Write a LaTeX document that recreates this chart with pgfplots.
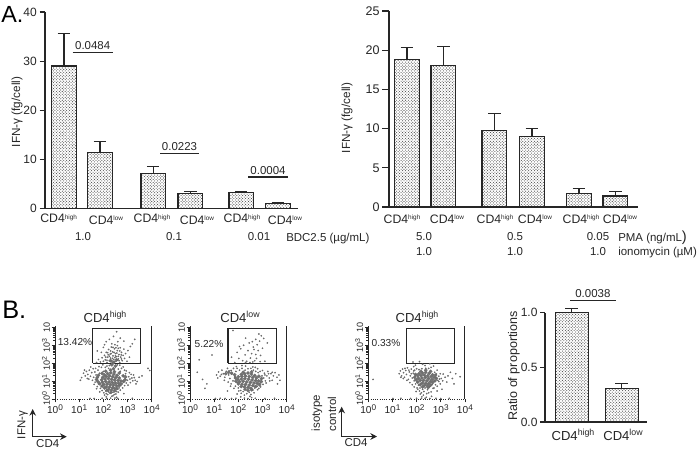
\documentclass[border=0pt]{standalone}
\usepackage{fontspec}
\setmainfont{Liberation Sans}
\usepackage{pgfplots}
\pgfplotsset{compat=1.18}
\usetikzlibrary{patterns,arrows.meta}
\pgfdeclarepatternformonly{stip}{\pgfqpoint{-0.1pt}{-0.1pt}}{\pgfqpoint{2.4pt}{2.4pt}}{\pgfqpoint{2.2pt}{2.2pt}}{%
  \pgfpathcircle{\pgfqpoint{0.5pt}{0.5pt}}{0.42pt}%
  \pgfpathcircle{\pgfqpoint{1.6pt}{1.6pt}}{0.42pt}%
  \pgfusepath{fill}}
\definecolor{ink}{gray}{0.15}
\definecolor{dotc}{gray}{0.42}
\newcommand\fs[1]{\fontsize{#1}{#1}\selectfont}
\newcommand\cdt[1]{{\fs{9.2}CD4\raisebox{2.6pt}{\fs{4.8}#1}}}
\newcommand\cdb[1]{{\fs{9.8}CD4\raisebox{3.4pt}{\fs{6.6}#1}}}
\newcommand\tp[1]{10\raisebox{2.6pt}{\fs{6.2}#1}}
\newcommand\tpy[1]{10\raisebox{2.2pt}{\fs{5.2}#1}}
\pgfplotsset{
  barax/.style={
    scale only axis, clip=false, axis x line=bottom, axis y line=left,
    axis line style={-,ink,line width=0.85pt}, xtick=\empty,
    tick style={ink,line width=0.85pt}, tick align=outside,
    major tick length=4pt,
    /pgf/number format/assume math mode=true,
    yticklabel style={xshift=1.4pt},
    ymin=0,
  },
  stipbar/.style={
    ybar, bar width=18.4pt, bar shift=0pt, draw=ink, line width=0.85pt,
    pattern=stip, pattern color=black!72,
    error bars/y dir=plus, error bars/y explicit,
    error bars/error bar style={ink,line width=0.85pt},
    error bars/error mark options={rotate=90,mark size=4.7pt,ink,line width=0.85pt},
  },
  flow/.style={
    scale only axis, clip=false, width=72.5pt, height=54.75pt,
    xmin=0,xmax=4,ymin=0,ymax=4.1,
    axis x line=bottom, axis y line=left,
    axis line style={-,ink,line width=0.7pt},
    x axis line style={densely dotted},
    xtick={0,1,2,3,4}, ytick={0,1,2,3,4},
    xticklabels={\tp{0},\tp{1},\tp{2},\tp{3},\tp{4}},
    yticklabels={\tpy{0},\tpy{1},\tpy{2},\tpy{3},10},
    minor ytick={.3,.48,.6,.7,.78,.85,.9,.95,1.3,1.48,1.6,1.7,1.78,1.85,1.9,1.95,2.3,2.48,2.6,2.7,2.78,2.85,2.9,2.95,3.3,3.48,3.6,3.7,3.78,3.85,3.9,3.95},
    tick style={ink,line width=0.6pt}, tick align=outside,
    major tick length=2.6pt, minor tick length=1.4pt,
    ticklabel style={font=\fs{7.6},text=ink,inner sep=1pt},
    yticklabel style={rotate=90,anchor=south,font=\fs{6.8}},
    xticklabel style={yshift=-0.5pt},
  },
  fine/.style={only marks,mark=*,mark size=0.42pt,color=dotc,mark options={draw=none,fill=dotc}},
  core/.style={only marks,mark=*,mark size=1.15pt,color=black!56,mark options={draw=none,fill=black!56}},
  gate/.style={ink,line width=0.85pt,mark=none},
}
\begin{document}
\begin{tikzpicture}
\path[use as bounding box] (0,0) rectangle (525pt,-337.5pt);

% ---------- A left
\begin{axis}[barax,at={(33.75pt,-156.375pt)},anchor=south west,width=189.75pt,height=147.375pt,
  xmin=45,xmax=298,ymax=40,ytick={0,10,20,30,40},ticklabel style={font=\fs{9},text=ink}]
\addplot[stipbar] coordinates {(64,29.0) +- (0,6.6) (100,11.4) +- (0,2.2) (153.2,7.2) +- (0,1.4) (190.3,3.0) +- (0,0.4) (241.2,3.2) +- (0,0.2) (277.8,1.0) +- (0,0.2)};
\end{axis}

% ---------- A right
\begin{axis}[barax,at={(291.75pt,-155.25pt)},anchor=south west,width=186.75pt,height=147pt,
  xmin=389,xmax=638,ymax=25,ytick={0,5,10,15,20,25},ticklabel style={font=\fs{9.4},text=ink},major tick length=5pt]
\addplot[stipbar] coordinates {(407,18.8) +- (0,1.5) (443.3,18.0) +- (0,2.5) (494.3,9.8) +- (0,2.1) (532,9.0) +- (0,1.0) (579,1.75) +- (0,0.65) (615.3,1.4) +- (0,0.6)};
\end{axis}

% ---------- B bars
\begin{axis}[barax,at={(408.75pt,-316.5pt)},anchor=south west,width=76.3pt,height=82pt,
  xmin=545,xmax=646.7,ymax=1,ytick={0,0.5,1},yticklabels={0.0,0.5,1.0},ticklabel style={font=\fs{9},text=ink},major tick length=3.5pt]
\addplot[stipbar,bar width=24.6pt] coordinates {(571.7,1.0) +- (0,0.04) (621.7,0.31) +- (0,0.045)};
\end{axis}

% ---------- B flow 1
\begin{axis}[flow,at={(41.25pt,-299.25pt)},anchor=south west]
\addplot[core] coordinates {(2.05,1.35)(2.18,1.42)(2.31,1.47)(2.44,1.40)(2.57,1.33)(1.98,1.22)(2.12,1.27)(2.26,1.30)(2.39,1.25)(2.52,1.21)(2.66,1.18)(1.93,1.08)(2.07,1.12)(2.21,1.15)(2.34,1.10)(2.47,1.07)(2.61,1.04)(2.73,1.01)(1.96,0.95)(2.10,0.98)(2.24,0.96)(2.37,0.93)(2.50,0.90)(2.63,0.88)(2.02,0.82)(2.16,0.84)(2.29,0.80)(2.42,0.78)(2.55,0.74)(2.12,0.68)(2.25,0.66)(2.38,0.63)(2.47,0.58)(2.20,0.52)(2.33,0.50)(2.30,1.62)(2.42,1.70)(2.50,1.85)(2.35,1.92)
(2.10,1.56)(2.46,1.53)(1.95,1.44)(2.66,1.46)(1.80,1.33)(2.82,1.30)(1.75,1.21)(2.92,1.24)(1.72,1.10)(2.90,1.08)(1.78,0.97)(2.83,0.99)(1.85,0.86)(2.72,0.85)(1.95,0.73)(2.65,0.75)(2.05,0.62)(2.55,0.60)(2.15,0.49)(2.47,0.46)(2.32,0.38)(2.42,2.05)(2.55,2.20)(2.30,2.15)};
\addplot[fine] coordinates {(1.18,1.45)(1.25,1.30)(1.30,1.55)(1.36,1.38)(1.42,1.62)(1.47,1.28)(1.52,1.48)(1.58,1.70)(1.10,1.20)(1.05,1.05)(1.22,1.62)(1.34,1.15)(1.60,1.22)(1.65,1.52)(1.70,1.35)(1.72,1.05)(1.78,1.62)(1.80,0.85)(1.85,1.45)(1.66,0.95)(1.75,0.70)(1.88,0.60)(1.92,1.78)(1.95,0.48)(2.00,1.55)(2.02,0.35)(2.10,0.45)(2.15,1.85)(2.18,0.25)(2.22,1.72)(2.28,0.32)(2.35,0.15)(2.40,0.38)(2.45,0.25)(2.55,0.42)(2.60,0.55)(2.65,0.62)(2.72,0.75)(2.78,0.85)(2.85,0.95)(2.90,1.12)(2.82,1.30)(2.92,1.42)(3.00,1.05)(3.05,1.25)(3.12,0.92)(3.18,1.18)(3.25,1.35)(3.32,1.05)(3.40,0.98)(3.48,1.22)(3.60,1.30)(3.85,1.72)(3.92,1.60)(2.70,1.55)(2.75,1.72)(2.62,1.68)(2.12,0.12)(2.30,0.05)(2.55,0.10)(1.45,0.03)(1.62,0.03)(1.95,0.04)(2.15,0.03)(2.60,0.03)(2.85,0.30)(3.20,0.04)
(1.40,1.12)(1.48,1.80)(1.55,1.05)(1.62,0.82)(1.68,1.72)(1.72,0.58)(1.82,1.82)(1.85,0.40)(1.92,0.72)(1.98,1.92)(2.05,0.22)(2.08,1.78)(2.22,0.40)(2.25,1.88)(2.40,0.18)(2.52,0.28)(2.62,0.38)(2.70,0.50)(2.80,0.62)(2.88,0.75)(2.95,0.90)(3.02,0.78)(3.08,1.48)(3.10,1.12)(3.15,1.38)(3.22,1.02)(3.28,1.20)(3.35,0.85)(2.88,1.62)(2.95,1.58)(2.82,1.80)(2.68,1.90)(2.58,1.92)(2.12,0.30)(2.48,0.05)
(1.72,2.05)(1.80,2.22)(1.88,2.08)(1.95,2.32)(2.00,2.12)(2.05,2.45)(2.08,2.20)(2.12,2.62)(2.15,2.05)(2.18,2.35)(2.22,2.78)(2.25,2.15)(2.28,2.52)(2.30,2.30)(2.33,2.92)(2.36,2.08)(2.38,2.65)(2.40,2.42)(2.43,2.22)(2.46,2.82)(2.48,3.05)(2.50,2.55)(2.52,2.12)(2.55,2.38)(2.58,2.72)(2.60,3.22)(2.62,2.25)(2.65,2.50)(2.68,2.05)(2.70,2.88)(2.72,2.35)(2.75,2.62)(2.78,2.15)(2.82,2.45)(2.85,2.80)(2.88,2.28)(2.92,2.55)(2.98,2.12)(3.02,2.72)(3.08,2.35)(3.12,2.95)(3.20,3.10)(2.05,3.05)(1.92,2.62)(1.75,2.70)(2.25,3.35)(2.42,3.52)(2.55,3.78)(2.70,3.42)(2.12,3.22)(3.30,3.35)(2.85,3.25)(2.00,2.90)(2.35,2.15)(2.48,2.32)(2.20,2.48)(2.58,2.18)(2.40,2.06)(2.62,2.85)(2.30,2.70)
(2.10,2.35)(2.18,2.60)(2.25,2.40)(2.32,2.55)(2.38,2.28)(2.44,2.62)(2.50,2.42)(2.56,2.58)(2.62,2.40)(2.68,2.70)(2.74,2.48)(2.40,2.90)(2.52,2.88)(2.35,3.10)(2.58,3.00)(2.28,2.18)(2.45,2.12)(2.65,2.15)(2.75,2.25)(2.15,2.18)};
\addplot[gate] coordinates {(1.56,2)(3.55,2)(3.55,3.96)(1.56,3.96)(1.56,2)};
\draw[ink,line width=0.7pt] (axis cs:4,0)--(axis cs:4,4.1);
\end{axis}

% ---------- B flow 2
\begin{axis}[flow,at={(142.5pt,-299.25pt)},anchor=south west]
\addplot[core] coordinates {(2.12,1.38)(2.26,1.42)(2.40,1.46)(2.54,1.40)(2.68,1.32)(2.00,1.25)(2.15,1.27)(2.30,1.29)(2.45,1.26)(2.60,1.22)(2.75,1.18)(1.98,1.10)(2.12,1.12)(2.27,1.14)(2.42,1.11)(2.57,1.07)(2.72,1.04)(2.84,1.02)(2.05,0.97)(2.20,0.99)(2.35,0.96)(2.50,0.93)(2.65,0.90)(2.78,0.88)(2.15,0.83)(2.30,0.82)(2.45,0.78)(2.60,0.75)(2.25,0.68)(2.40,0.65)(2.52,0.60)
(1.85,1.36)(1.72,1.45)(1.60,1.50)(1.48,1.42)(1.88,1.18)(2.85,1.28)(2.96,1.15)(1.90,1.00)(2.95,0.98)(2.00,0.85)(2.88,0.80)(2.12,0.70)(2.72,0.70)(2.28,0.55)(2.55,0.52)(2.20,1.50)(2.55,1.52)(2.40,0.48)};
\addplot[fine] coordinates {(0.38,2.20)(0.91,2.47)(0.30,1.50)(0.52,1.10)(0.70,0.85)(0.62,0.60)(1.10,1.35)(1.18,1.52)(1.25,1.28)(1.32,1.62)(1.38,1.42)(1.44,1.22)(1.50,1.55)(1.55,1.72)(1.60,1.35)(1.65,1.15)(1.70,1.60)(1.75,1.42)(1.80,1.72)(1.85,1.25)(1.90,1.55)(1.95,0.92)(1.78,1.02)(1.70,0.85)(1.88,0.72)(1.95,1.72)(2.00,0.62)(2.05,1.62)(2.10,0.48)(2.15,1.72)(2.20,0.42)(2.28,1.62)(2.35,0.30)(2.45,0.38)(2.52,0.25)(2.60,0.50)(2.68,0.62)(2.78,0.72)(2.85,0.60)(2.90,0.90)(2.95,1.08)(2.98,1.30)(3.02,0.82)(3.08,1.45)(3.12,1.02)(3.18,1.30)(3.22,1.55)(3.28,1.18)(3.35,1.42)(3.40,1.05)(3.45,1.30)(3.52,1.48)(3.60,1.22)(3.68,1.35)(3.72,1.05)(3.62,0.85)(2.62,1.62)(2.72,1.55)(2.82,1.48)(2.52,1.72)(2.40,1.70)(2.70,1.78)(1.55,0.45)(1.95,0.28)(2.10,0.12)(2.25,0.05)(2.55,0.08)(1.05,0.03)(1.25,0.04)(1.45,0.03)(1.72,0.03)(1.90,0.04)(2.40,0.03)(2.70,0.04)(3.10,0.03)(3.50,0.04)
(1.15,1.18)(1.30,1.38)(1.42,1.05)(1.58,0.95)(1.62,1.58)(1.68,0.72)(1.82,0.60)(1.92,1.82)(2.02,0.45)(2.12,0.32)(2.25,0.22)(2.48,0.15)(2.65,0.35)(2.80,0.52)(2.92,0.68)(3.05,1.18)(3.10,1.35)(3.15,0.90)(3.25,1.42)(3.30,1.02)(3.40,1.50)(2.90,1.55)(3.00,1.60)(2.80,1.70)(2.60,1.80)(2.30,1.85)(2.15,1.88)
(1.72,2.35)(1.85,2.05)(1.95,2.62)(2.02,2.28)(2.10,2.82)(2.18,2.15)(2.22,3.02)(2.28,2.48)(2.35,2.12)(2.40,2.72)(2.45,3.15)(2.50,2.30)(2.55,2.55)(2.62,2.92)(2.68,2.15)(2.72,3.35)(2.78,3.05)(2.82,2.72)(2.88,3.25)(2.92,2.45)(2.95,3.55)(3.00,2.85)(3.05,3.40)(3.10,2.12)(2.60,2.08)(2.65,2.78)(2.48,2.05)(2.58,3.22)(2.30,3.42)(1.78,3.85)(2.05,2.95)(2.85,3.65)(2.72,2.50)(2.30,2.05)(2.75,2.28)(2.90,2.10)(3.20,3.15)};
\addplot[gate] coordinates {(1.57,2)(3.58,2)(3.58,3.96)(1.57,3.96)(1.57,2)};
\draw[ink,line width=0.7pt] (axis cs:4,0)--(axis cs:4,4.1);
\end{axis}

% ---------- B flow 3
\begin{axis}[flow,at={(276.2pt,-299.25pt)},anchor=south west]
\addplot[core] coordinates {(2.10,1.42)(2.24,1.46)(2.38,1.50)(2.52,1.44)(2.66,1.36)(2.05,1.30)(2.18,1.32)(2.32,1.34)(2.46,1.30)(2.60,1.26)(2.72,1.22)(2.08,1.16)(2.22,1.18)(2.36,1.20)(2.50,1.15)(2.64,1.10)(2.15,1.04)(2.29,1.05)(2.43,1.02)(2.57,0.98)(2.25,0.90)(2.38,0.88)(2.50,0.86)(2.32,0.76)(2.44,0.74)
(1.95,1.38)(1.92,1.22)(2.78,1.34)(2.82,1.16)(1.98,1.08)(2.76,1.02)(2.05,0.95)(2.66,0.92)(2.15,0.80)(2.58,0.78)(2.25,0.68)(2.48,0.65)(2.18,1.55)(2.58,1.55)(2.38,1.62)};
\addplot[fine] coordinates {(0.20,1.10)(1.28,1.42)(1.33,1.58)(1.38,1.30)(1.42,1.68)(1.46,1.48)(1.50,1.22)(1.55,1.60)(1.58,1.38)(1.62,1.75)(1.66,1.10)(1.70,1.52)(1.74,1.30)(1.78,1.68)(1.82,1.18)(1.86,1.45)(1.90,1.02)(1.92,1.62)(1.96,0.85)(1.95,1.30)(2.00,1.70)(2.02,0.95)(2.08,0.78)(2.10,1.65)(2.14,0.62)(2.18,0.88)(2.22,1.70)(2.25,0.55)(2.30,0.42)(2.35,0.62)(2.38,1.72)(2.42,0.30)(2.45,0.52)(2.50,1.72)(2.55,0.70)(2.60,0.40)(2.64,0.82)(2.68,0.60)(2.72,1.00)(2.78,0.80)(2.80,1.18)(2.82,1.40)(2.88,1.05)(2.92,1.28)(2.98,0.85)(3.02,1.15)(3.10,1.40)(3.18,1.22)(3.25,0.95)(3.30,1.30)(3.40,1.50)(3.48,1.15)(3.62,1.42)(3.80,1.25)(2.05,0.55)(1.98,0.42)(2.15,0.28)(2.22,0.12)(2.40,0.10)(2.62,0.15)(2.85,0.45)(3.05,0.55)(1.02,0.03)(1.35,0.04)(1.75,0.03)(2.00,0.04)(2.20,0.03)(2.35,0.04)(2.55,0.03)(2.80,0.04)(3.00,0.03)(3.35,0.04)(1.85,2.08)(2.12,2.10)(2.25,1.95)(2.55,1.98)(2.70,1.85)(1.95,1.90)(2.35,1.88)(2.60,1.78)(2.00,1.38)(2.75,1.50)(1.88,1.82)(2.85,1.62)(3.55,0.85)
(1.35,1.22)(1.45,1.15)(1.52,1.72)(1.60,1.05)(1.68,1.62)(1.72,0.92)(1.78,1.42)(1.82,0.80)(1.88,1.58)(1.90,0.68)(2.02,0.62)(2.12,0.45)(2.20,0.35)(2.28,0.22)(2.50,0.35)(2.72,0.62)(2.85,0.72)(2.92,0.98)(2.95,1.12)(2.98,1.42)(3.08,1.02)};
\addplot[gate] coordinates {(1.58,2)(3.58,2)(3.58,3.96)(1.58,3.96)(1.58,2)};
\draw[ink,line width=0.7pt] (axis cs:4,0)--(axis cs:4,4.1);
\end{axis}

% ---------- annotations in reference pixels
\begin{scope}[x=0.75pt,y=-0.75pt,every node/.style={text=ink,inner sep=0pt}]
\node[anchor=west,text=black] at (1,14) {\fs{17.5}A.};
\node[anchor=west,text=black] at (2,310) {\fs{19}B.};
\node[rotate=90] at (17,112) {\fs{8.8}IFN-γ (fg/cell)};
\node[rotate=90] at (347,118) {\fs{8.8}IFN-γ (fg/cell)};
\node[rotate=90] at (514,366) {\fs{9.4}Ratio of proportions};
% significance
\foreach \a/\b/\y/\t in {72.7/112.7/52.3/0.0484,160/199/153.7/0.0223,248/288/177/0.0004,570/615.7/300.7/0.0038}{
  \draw[ink,line width=0.8pt] (\a,\y)--(\b,\y);
  \node[anchor=base] at ({(\a+\b)/2},\y-3) {\fs{8.6}\t};
}
% category labels, left
\foreach \x in {58.7,152,242}{\node at (\x,218.5) {\cdt{high}};}
\foreach \x in {106,197,285}{\node at (\x,220) {\cdt{low}};}
\foreach \x in {402,495,581}{\node at (\x,219) {\cdt{high}};}
\foreach \x in {447,535,620}{\node at (\x,219) {\cdt{low}};}
\node at (83,237) {\fs{8.6}1.0};
\node at (174,237) {\fs{8.6}0.1};
\node at (259,237) {\fs{8.6}0.01};
\node[anchor=west] at (286,238.5) {\fs{8.6}BDC2.5 (µg/mL)};
\foreach \x/\t in {424/5.0,515/0.5,598/0.05}{
  \node at (\x,237) {\fs{8.6}\t};
  \node at (\x,252) {\fs{8.6}1.0};
}
\node[anchor=west] at (618,238) {\fs{8.6}PMA (ng/mL{\fs{11})}};
\node[anchor=west] at (618,253) {\fs{8.6}ionomycin (µM)};
% flow titles
\node at (105,317) {\cdb{high}};
\node at (240,317) {\cdb{low}};
\node at (417,317) {\cdb{high}};
\node at (75,342) {\fs{7.6}13.42\%};
\node at (209,344) {\fs{7.6}5.22\%};
\node at (386,343) {\fs{7.6}0.33\%};
% flow arrows
\draw[-{Stealth[length=5pt,width=5pt]},ink,line width=0.8pt] (32.7,436.7)--(32.7,409);
\draw[-{Stealth[length=5pt,width=5pt]},ink,line width=0.8pt] (32.7,436.7)--(66.7,436.7);
\node[rotate=90] at (22.7,425) {\fs{8.6}IFN-γ};
\node at (47.7,443.5) {\fs{8.6}CD4};
\draw[-{Stealth[length=5pt,width=5pt]},ink,line width=0.8pt] (341.7,436.5)--(341.7,406.7);
\draw[-{Stealth[length=5pt,width=5pt]},ink,line width=0.8pt] (341.7,436.5)--(377,436.5);
\node[rotate=90] at (317,413) {\fs{8.6}isotype};
\node[rotate=90] at (332,414) {\fs{8.6}control};
\node at (356,443) {\fs{8.6}CD4};
% bar B labels
\node at (573,435) {\cdb{high}};
\node at (623,435) {\cdb{low}};
\end{scope}
\end{tikzpicture}
\end{document}
